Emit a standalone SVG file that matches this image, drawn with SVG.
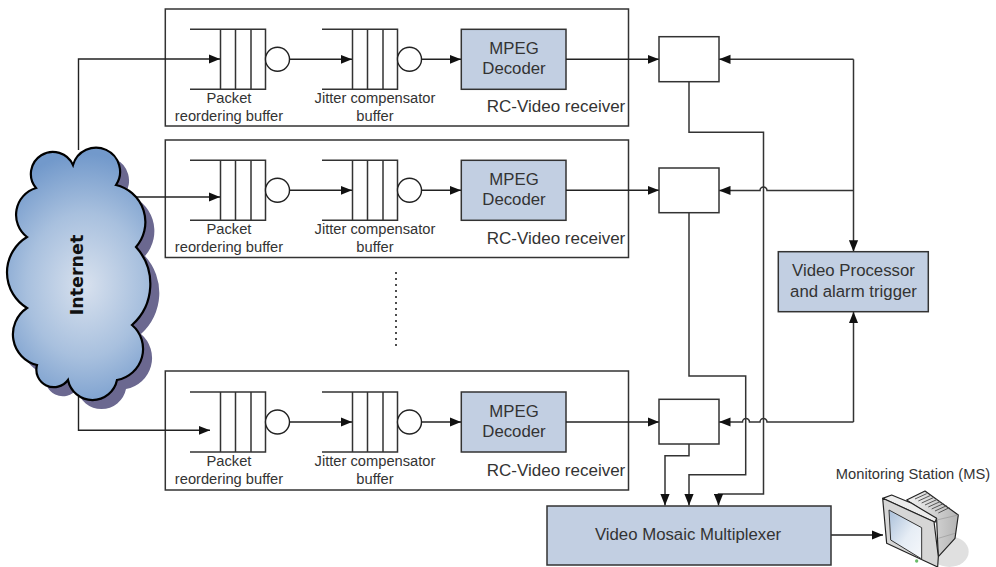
<svg xmlns="http://www.w3.org/2000/svg" width="996" height="567" viewBox="0 0 996 567">
<style>
text{font-family:"Liberation Sans",Arial,sans-serif;fill:#333;text-anchor:middle}
.lbl{font-size:14.700px}
.rc{font-size:17px}
.big{font-size:16.800px}
.box{fill:#fff;stroke:#333;stroke-width:1.5}
.blue{fill:#c2cfe2;stroke:#333;stroke-width:1.5}
.line{fill:none;stroke:#222;stroke-width:1.4}
.thick{fill:none;stroke:#333;stroke-width:1.5}
.arr{marker-end:url(#ah)}
</style>
<defs>
<marker id="ah" markerUnits="userSpaceOnUse" markerWidth="12" markerHeight="10" refX="11.500" refY="5" orient="auto"><path d="M0 .4L11.500 5L0 9.600z" fill="#111"/></marker>
<radialGradient id="cg" gradientUnits="userSpaceOnUse" cx="85" cy="285" r="125" gradientTransform="translate(85 285) scale(.85 1.050) translate(-85 -285)">
<stop offset="0" stop-color="#d8e1ee"/><stop offset=".55" stop-color="#a8c0de"/><stop offset="1" stop-color="#7299cb"/></radialGradient>
<linearGradient id="mg" x1="0" y1="0" x2="1" y2="0"><stop offset="0" stop-color="#f4f4f4"/><stop offset="1" stop-color="#b4b4b4"/></linearGradient>
<linearGradient id="sg" x1="0" y1="0" x2="1" y2="1"><stop offset="0" stop-color="#a9bfd9"/><stop offset=".55" stop-color="#e6edf5"/><stop offset="1" stop-color="#f6f8fb"/></linearGradient>
<path id="cloud" d="M73 165A24 24 0 1 1 116 185A38 38 0 0 1 136 247A55 55 0 0 1 132 325A31.500 31.500 0 0 1 117 380A25 25 0 0 1 68 380A17.500 17.500 0 0 1 37 365A31.600 31.600 0 0 1 27 308A41.500 41.500 0 0 1 27 237A28 28 0 0 1 36 188A22 22 0 1 1 73 165Z"/>
<g id="queue">
<path class="thick" d="M0 0H75.500V60H0M30.500 0V60M45.500 0V60M61 0V60"/>
<circle cx="87.500" cy="30" r="12" fill="#fff" stroke="#222" stroke-width="1.400"/>
</g>
</defs>

<g id="receiver-1">
<rect class="box" x="165.300" y="9" width="463.200" height="117"/>
<use href="#queue" x="190" y="29.300"/><use href="#queue" x="322" y="29.300"/>
<rect class="blue" x="461.300" y="29.300" width="104.700" height="60"/>
<text class="big" x="514" y="54">MPEG</text><text class="big" x="514" y="74">Decoder</text>
<text class="lbl" x="229" y="103">Packet</text><text class="lbl" x="229" y="121">reordering buffer</text>
<text class="lbl" x="375" y="103">Jitter compensator</text><text class="lbl" x="375" y="121">buffer</text>
<text class="rc" x="556" y="112">RC-Video receiver</text>
</g>
<g id="receiver-2">
<rect class="box" x="165.300" y="140" width="463.200" height="117.500"/>
<use href="#queue" x="190" y="160.300"/><use href="#queue" x="322" y="160.300"/>
<rect class="blue" x="461.300" y="160.300" width="104.700" height="60"/>
<text class="big" x="514" y="185">MPEG</text><text class="big" x="514" y="205">Decoder</text>
<text class="lbl" x="229" y="234">Packet</text><text class="lbl" x="229" y="252">reordering buffer</text>
<text class="lbl" x="375" y="234">Jitter compensator</text><text class="lbl" x="375" y="252">buffer</text>
<text class="rc" x="556" y="243.500">RC-Video receiver</text>
</g>
<g id="receiver-3">
<rect class="box" x="165.300" y="371" width="463.200" height="119"/>
<use href="#queue" x="190" y="392"/><use href="#queue" x="322" y="392"/>
<rect class="blue" x="461.300" y="392" width="104.700" height="60"/>
<text class="big" x="514" y="417">MPEG</text><text class="big" x="514" y="437">Decoder</text>
<text class="lbl" x="229" y="466">Packet</text><text class="lbl" x="229" y="484">reordering buffer</text>
<text class="lbl" x="375" y="466">Jitter compensator</text><text class="lbl" x="375" y="484">buffer</text>
<text class="rc" x="556" y="475.500">RC-Video receiver</text>
</g>
<path id="ellipsis" d="M396 272V350" fill="none" stroke="#222" stroke-width="1.600" stroke-dasharray="2 4"/>

<g id="connectors">
<path class="line arr" d="M78.500 150V59H220"/>
<path class="line arr" d="M130 197H220"/>
<path class="line arr" d="M78.500 395V430.300H210"/>
<path class="line arr" d="M289.500 59.300H352"/>
<path class="line arr" d="M289.500 190.300H352"/>
<path class="line arr" d="M289.500 422H352"/>
<path class="line arr" d="M421.500 59.300H461"/>
<path class="line arr" d="M421.500 190.300H461"/>
<path class="line arr" d="M421.500 422H461"/>
<path class="line arr" d="M566 59.300H659"/>
<path class="line arr" d="M566 190.300H659"/>
<path class="line arr" d="M566 422H659"/>
<path class="thick arr" d="M853.500 59.300H719"/>
<path class="thick arr" d="M853.500 190.500H767a3.500 3.500 0 0 0-7 0H719"/>
<path class="thick arr" d="M853.500 422H767a3.500 3.500 0 0 0-7 0H749.500a3.500 3.500 0 0 0-7 0H719"/>
<path class="thick arr" d="M853.500 59.300V251.700"/>
<path class="thick arr" d="M853.500 422V311.700"/>
<path class="thick arr" d="M689 81.700V132.300H763.500V494H718.500V505.500"/>
<path class="thick arr" d="M689 212.700V376H745.700V474.700H689V505.500"/>
<path class="thick arr" d="M689 444V455.700H665V505.500"/>
<path class="line arr" d="M831 535H883"/>
</g>

<g id="internet">
<use href="#cloud" x="9" y="9" fill="#6b6890"/>
<use href="#cloud" fill="url(#cg)" stroke="#000" stroke-width="2.200"/>
<text transform="translate(83 275) rotate(-90)" font-size="17.500" font-weight="700" style="font-family:'DejaVu Sans',sans-serif;fill:#111">Internet</text>
</g>

<g id="mux-1"><rect class="box" x="659" y="36.700" width="60" height="45"/></g>
<g id="mux-2"><rect class="box" x="659" y="168" width="60" height="44.700"/></g>
<g id="mux-3"><rect class="box" x="659" y="399.300" width="60" height="44.700"/></g>
<g id="video-processor">
<rect class="blue" x="778.300" y="251.700" width="150" height="60"/>
<text class="big" x="853.500" y="276">Video Processor</text><text class="big" x="853.500" y="296.500">and alarm trigger</text>
</g>
<g id="multiplexer">
<rect class="blue" x="547" y="506" width="284" height="59"/>
<text class="big" x="688" y="540">Video Mosaic Multiplexer</text>
</g>
<g id="monitor">
<g transform="translate(870 485) scale(.3333)" stroke-linejoin="round">
<ellipse cx="238" cy="200" rx="58" ry="46" fill="#e0e0e0"/>
<path d="M110 45L165 18L265 90L255 160L205 215L200 105Z" fill="url(#mg)" stroke="#222" stroke-width="3.500"/>
<path d="M38 40L65 30L125 55L200 100L195 112Z" fill="#ececec" stroke="#222" stroke-width="3.500"/>
<path d="M38 40L192 110L205 215L203 246L50 175Z" fill="#d6d6d6" stroke="#222" stroke-width="3.500"/>
<path d="M57 75L155 128L155 222L62 165Z" fill="url(#sg)" stroke="#333" stroke-width="3"/>
<path d="M200 105L265 90M205 160L255 145" fill="none" stroke="#999" stroke-width="2"/>
<path d="M135 42L170 26M145 48L180 32M155 54L190 38M165 60L200 44M175 66L210 50M185 72L220 56M195 78L230 62M205 84L238 68" fill="none" stroke="#555" stroke-width="3"/>
<circle cx="140" cy="228" r="5" fill="#69bb69"/>
</g>
<text class="lbl" x="913" y="479">Monitoring Station (MS)</text>
</g>
</svg>
